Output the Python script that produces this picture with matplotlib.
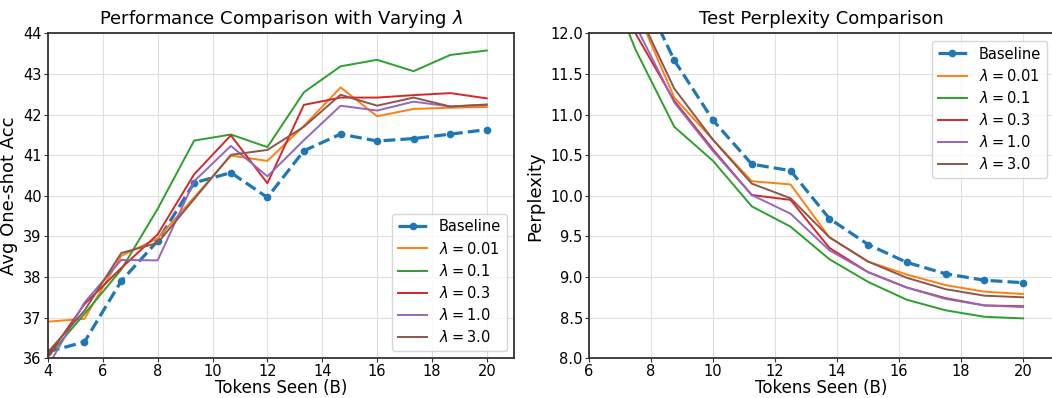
import matplotlib
matplotlib.use("Agg")
import matplotlib.pyplot as plt

# x positions (tokens seen, billions)
acc_tokens = [4.0, 5.33, 6.67, 8.0, 9.33, 10.67, 12.0, 13.33, 14.67, 16.0, 17.33, 18.67, 20.0]
ppl_tokens = [6.25, 7.5, 8.75, 10.0, 11.25, 12.5, 13.75, 15.0, 16.25, 17.5, 18.75, 20.0]

labels = ["Baseline", r"$\lambda = 0.01$", r"$\lambda = 0.1$", r"$\lambda = 0.3$",
          r"$\lambda = 1.0$", r"$\lambda = 3.0$"]
colors = ["#1f77b4", "#ff7f0e", "#2ca02c", "#d62728", "#9467bd", "#8c564b"]

# avg one-shot accuracy
acc_baseline = [36.16, 36.4, 37.9, 38.89, 40.32, 40.57, 39.96, 41.11, 41.52, 41.35, 41.41, 41.52, 41.63]
acc_001 = [36.9, 36.97, 38.52, 38.95, 39.96, 40.99, 40.86, 41.72, 42.67, 41.96, 42.14, 42.17, 42.19]
acc_01 = [36.04, 37.09, 38.18, 39.68, 41.36, 41.51, 41.2, 42.55, 43.19, 43.35, 43.07, 43.47, 43.58]
acc_03 = [36.05, 37.33, 38.22, 39.05, 40.53, 41.49, 40.31, 42.24, 42.42, 42.42, 42.48, 42.53, 42.4]
acc_10 = [35.8, 37.37, 38.42, 38.41, 40.36, 41.23, 40.48, 41.37, 42.22, 42.1, 42.32, 42.2, 42.24]
acc_30 = [36.15, 37.17, 38.59, 38.84, 39.92, 41.01, 41.13, 41.7, 42.49, 42.22, 42.42, 42.2, 42.25]

# test perplexity (first point lies above the visible range)
ppl_baseline = [13.6, 12.67, 11.67, 10.93, 10.39, 10.31, 9.72, 9.40, 9.18, 9.04, 8.96, 8.93]
ppl_001 = [13.3, 12.32, 11.21, 10.69, 10.18, 10.14, 9.49, 9.19, 9.03, 8.9, 8.82, 8.79]
ppl_01 = [13.0, 11.8, 10.85, 10.43, 9.87, 9.62, 9.22, 8.94, 8.72, 8.59, 8.51, 8.49]
ppl_03 = [13.1, 12.0, 11.17, 10.57, 10.01, 9.95, 9.36, 9.06, 8.87, 8.74, 8.65, 8.64]
ppl_10 = [13.2, 12.1, 11.15, 10.55, 10.01, 9.78, 9.33, 9.06, 8.87, 8.73, 8.65, 8.63]
ppl_30 = [13.4, 12.33, 11.32, 10.69, 10.15, 9.97, 9.49, 9.19, 8.99, 8.85, 8.77, 8.75]

acc_series = [acc_baseline, acc_001, acc_01, acc_03, acc_10, acc_30]
ppl_series = [ppl_baseline, ppl_001, ppl_01, ppl_03, ppl_10, ppl_30]

fig = plt.figure(figsize=(10.52, 3.98), dpi=100)
ax1 = fig.add_axes([0.0456, 0.1, 0.4432, 0.816])
ax2 = fig.add_axes([0.5599, 0.1, 0.4421, 0.816])


def style(ax):
    ax.grid(True, color="#e0e0e0", linewidth=0.8)
    ax.set_axisbelow(True)
    for s in ax.spines.values():
        s.set_color("#333333")
        s.set_linewidth(1.3)
    ax.tick_params(labelsize=10.5, length=3, pad=1.5, color="#333333")


for ax, x, series in [(ax1, acc_tokens, acc_series), (ax2, ppl_tokens, ppl_series)]:
    for i, (y, lab, c) in enumerate(zip(series, labels, colors)):
        if i == 0:
            ax.plot(x, y, "--o", color=c, lw=2.3, ms=4.5, label=lab)
        else:
            ax.plot(x, y, "-", color=c, lw=1.4, label=lab)
    style(ax)

ax1.set_xlim(4, 21)
ax1.set_ylim(36, 44)
ax1.set_xticks(range(4, 21, 2))
ax1.set_title(r"Performance Comparison with Varying $\lambda$", fontsize=13, pad=7)
ax1.set_xlabel("Tokens Seen (B)", fontsize=12, labelpad=0)
ax1.set_ylabel("Avg One-shot Acc", fontsize=13, labelpad=4)
ax1.legend(loc="lower right", fontsize=10.5, labelspacing=0.42)

ax2.set_xlim(6, 21)
ax2.set_ylim(8, 12)
ax2.set_xticks(range(6, 21, 2))
ax2.set_title("Test Perplexity Comparison", fontsize=13, pad=7)
ax2.set_xlabel("Tokens Seen (B)", fontsize=12, labelpad=0)
ax2.set_ylabel("Perplexity", fontsize=13, labelpad=4)
ax2.legend(loc="upper right", fontsize=10.5, labelspacing=0.42)

fig.savefig("out.png", dpi=100)
